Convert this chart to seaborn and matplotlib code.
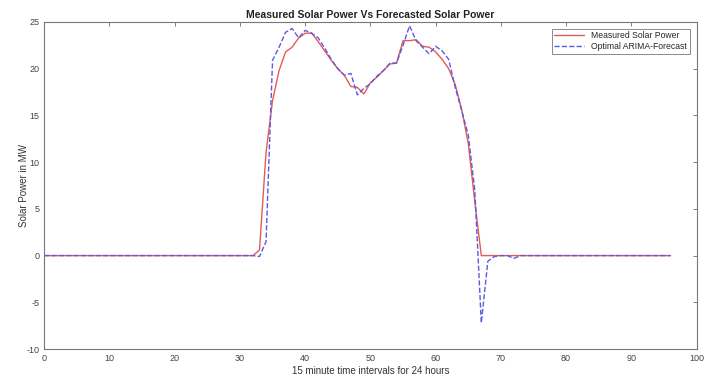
import numpy as np
import pandas as pd
import matplotlib
matplotlib.use("Agg")
import matplotlib.pyplot as plt
import seaborn as sns

# 15-minute intervals across 24 hours
intervals = list(range(0, 97))

# measured solar power (MW)
measured = [0.0] * 33 + [
    0.6, 11.0, 16.6, 19.8, 21.8, 22.3, 23.3, 23.8, 23.8, 22.9,
    21.9, 20.9, 20.0, 19.3, 18.1, 18.0, 17.3, 18.5, 19.1, 19.8,
    20.5, 20.6, 23.0, 23.0, 23.1, 22.4, 22.3, 21.8, 21.0, 20.0,
    18.3, 15.6, 12.0, 5.8, 0.0,
] + [0.0] * 29

# optimal ARIMA forecast (MW)
forecast = [0.0] * 33 + [
    -0.1, 1.5, 20.9, 22.3, 23.9, 24.3, 23.3, 24.1, 23.8, 23.3,
    22.2, 21.0, 20.0, 19.3, 19.5, 17.2, 17.9, 18.4, 19.2, 19.8,
    20.6, 20.6, 22.5, 24.6, 23.0, 22.3, 21.6, 22.4, 21.9, 21.0,
    18.0, 15.5, 12.9, 7.0, -7.2, -0.6, -0.1, 0.0, 0.0, -0.3,
] + [0.0] * 24

x_ticks = list(range(0, 101, 10))
y_ticks = list(range(-10, 26, 5))

sns.set_style("white")
plt.rcParams['font.family'] = ['Liberation Sans', 'DejaVu Sans']
plt.rcParams['axes.unicode_minus'] = False

df = pd.DataFrame({'interval': intervals, 'measured': measured, 'forecast': forecast})

fig = plt.figure(figsize=(7.13, 3.79), dpi=100)
ax = fig.add_axes([0.062, 0.079, 0.915, 0.863])

sns.lineplot(data=df, x='interval', y='measured', ax=ax, color='#e65a55',
             linewidth=1.0, label='Measured Solar Power')
sns.lineplot(data=df, x='interval', y='forecast', ax=ax, color='#5a5ae0',
             linewidth=1.0, linestyle='--', dashes=(5, 3), label='Optimal ARIMA-Forecast')

ax.set_xlim(0, 100)
ax.set_ylim(-10, 25)
ax.set_xticks(x_ticks)
ax.set_yticks(y_ticks)
ax.tick_params(direction='in', top=True, right=True, length=3, width=0.6,
               labelsize=6.5, colors='#666666', labelcolor='#444444')
for s in ax.spines.values():
    s.set_color('#777777')
    s.set_linewidth(0.8)

ax.set_title('Measured Solar Power Vs Forecasted Solar Power', fontsize=7.5,
             fontweight='bold', color='#222222', pad=3)
ax.set_xlabel('15 minute time intervals for 24 hours', fontsize=7, color='#333333', labelpad=2)
ax.set_ylabel('Solar Power in MW', fontsize=7, color='#333333', labelpad=-2)

leg = ax.legend(loc='upper right', fontsize=6.2, frameon=True, fancybox=False,
                handlelength=3.5, borderpad=0.3, labelspacing=0.2, borderaxespad=0.8)
leg.get_frame().set_edgecolor('#555555')
leg.get_frame().set_linewidth(0.6)

fig.savefig('out.png', dpi=100)
